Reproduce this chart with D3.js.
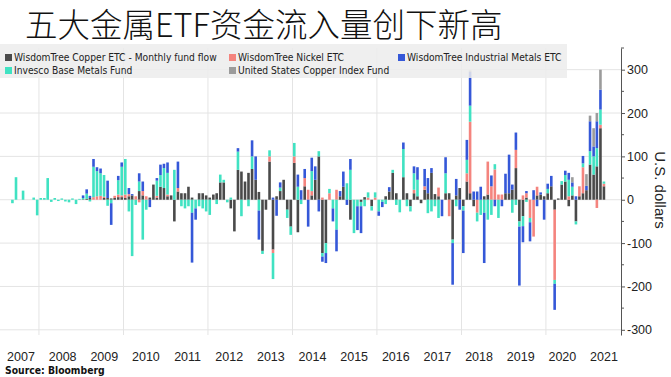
<!DOCTYPE html>
<html>
<head>
<meta charset="utf-8">
<script src="https://cdn.jsdelivr.net/npm/d3@7"></script>
<style>
  body { margin: 0; background: #fff; }
  svg { display: block; }
</style>
</head>
<body>
<svg id="chart" width="671" height="377"></svg>
<script>
// monthly fund flows, May 2007 .. May 2021 (one row of comments per calendar year)
const firstMonth = new Date(2007, 4, 1);

const copper = [
  0,0,0,0,0,0,0,0,
  0,0,0,0,0,0,0,0,0,0,0,0,
  1,2,4,0,0,0,4,4,3,4,6,6,
  4,8,10,0,20,10,0,5,35,5,30,27,
  8,10,-50,19,15,15,30,5,0,15,15,10,
  5,12,15,40,40,0,-20,-73,69,65,42,62,
  71,46,18,-118,-23,88,-115,8,20,46,-23,-62,
  85,-75,0,31,0,10,46,100,-123,-100,0,0,
  0,8,30,0,-46,0,0,-5,6,0,-15,0,
  0,0,8,19,62,15,0,52,15,-15,15,8,
  -8,23,15,62,13,8,0,15,15,-92,10,27,
  -15,42,15,-15,0,0,8,12,0,0,0,0,
  15,15,23,73,-50,-38,5,0,0,10,12,8,
  15,31,-23,3,35,42,-15,10,-50,8,15,22,
  81,58,77,165,31
];
const nickel = [
  0,0,0,0,0,0,0,0,
  0,0,0,0,0,0,0,0,0,0,0,0,
  0,0,0,6,8,9,3,0,0,5,6,4,
  8,5,0,8,-6,10,8,0,0,4,0,0,
  4,0,0,8,0,0,0,0,0,0,0,0,
  0,0,0,0,0,0,0,0,0,0,0,0,
  0,0,0,0,0,12,-8,0,0,0,0,0,
  15,0,0,19,23,10,0,0,5,0,15,0,
  23,0,0,0,0,0,0,0,0,5,0,5,
  0,0,0,0,0,0,0,0,0,0,8,0,
  0,8,0,0,0,20,0,0,-38,0,0,0,
  0,19,165,0,-30,0,0,76,31,70,12,12,
  0,0,0,42,0,10,10,-42,-85,20,0,0,
  0,0,-162,0,0,0,8,0,0,23,60,0,
  0,0,-19,8,6
];
const invesco = [
  -8,52,0,21,0,0,5,-36,
  4,4,50,-5,4,-3,3,-4,-6,3,-10,2,
  3,12,-4,70,58,52,50,-14,-8,0,33,66,
  82,-27,-130,-12,22,-92,-23,0,0,35,27,46,
  50,0,69,0,-15,-20,-15,-30,-20,-15,-20,-27,
  -35,0,-10,18,6,-6,5,0,42,-38,0,-15,
  29,0,-25,-7,0,14,-60,0,8,0,-19,-19,
  31,30,-10,0,0,46,0,12,-8,-23,10,-20,
  -69,0,0,38,69,-77,-15,-10,-15,12,-10,12,
  -27,-5,-10,0,7,-12,-29,65,-15,-12,38,38,
  0,0,-31,-27,-15,-42,0,46,0,-8,-15,0,
  -10,31,37,0,-20,-35,-30,-46,-35,12,-42,0,
  0,0,-30,-12,-12,-23,-5,-10,0,0,0,0,
  10,0,-9,0,8,15,38,20,-7,0,9,0,
  31,42,42,35,5
];
const industrial = [
  0,0,0,0,0,0,0,0,
  0,0,0,0,0,0,0,0,0,0,0,0,
  6,10,5,18,9,11,0,40,-50,0,10,10,
  0,14,3,0,19,22,0,-17,0,6,24,10,
  24,0,0,61,0,0,0,-115,-26,0,0,0,
  0,0,0,0,0,0,0,0,8,0,0,0,
  37,54,-67,0,0,0,5,-37,12,0,0,0,
  0,28,22,21,-62,31,31,-27,-12,-23,0,-30,
  -50,12,35,-12,25,0,-55,-62,0,0,0,0,
  -10,-12,0,10,0,0,0,15,0,0,16,29,
  0,40,35,11,0,0,-38,37,0,-96,38,-23,
  -98,46,78,19,19,30,-116,0,25,-15,0,-15,
  45,89,12,40,-136,-37,5,-44,22,-15,5,-46,
  12,24,-60,0,0,10,16,10,8,0,17,10,
  69,23,62,46,0
];
const usCopper = [
  0,0,0,0,0,0,0,0,
  0,0,0,0,0,0,0,0,0,0,0,0,
  0,0,0,0,0,0,0,0,0,0,0,0,
  0,0,0,0,0,0,0,0,0,0,0,0,
  0,0,0,0,0,0,0,0,0,0,0,0,
  0,0,0,0,0,0,0,0,0,0,0,0,
  0,0,0,0,0,0,0,0,0,0,0,0,
  0,0,0,0,0,0,0,0,0,0,0,0,
  0,0,0,0,0,0,0,0,0,0,0,0,
  0,0,0,0,0,0,0,0,0,0,0,0,
  0,0,0,0,0,0,0,0,0,0,0,0,
  0,0,3,0,0,0,0,0,0,0,0,0,
  0,0,0,0,0,0,0,0,0,0,0,0,
  0,0,0,0,0,0,0,12,0,0,0,27,
  13,42,19,46,0
];

const seriesKeys = ["copper", "nickel", "invesco", "industrial", "usCopper"];
const seriesNames = [
  "WisdomTree Copper ETC - Monthly fund flow",
  "WisdomTree Nickel ETC",
  "Invesco Base Metals Fund",
  "WisdomTree Industrial Metals ETC",
  "United States Copper Index Fund"
];
const seriesColors = ["#4a4a4a", "#f4847e", "#40e2c2", "#3558d8", "#9b9b9b"];
const yTicks = [-300, -200, -100, 0, 100, 200, 300];
const yearLabels = d3.range(2007, 2022);
const title = "五大金属ETF资金流入量创下新高";


const svg = d3.select("#chart");
const plotRight = 621;

const rows = copper.map((v, i) => ({
  date: d3.timeMonth.offset(firstMonth, i),
  copper: v, nickel: nickel[i], invesco: invesco[i], industrial: industrial[i], usCopper: usCopper[i]
}));

// scales
const x = d3.scaleTime()
  .domain([new Date(2007, 0, 1), new Date(2021, 0, 1)])
  .range([-3.25, 588.25]);
const y = d3.scaleLinear().domain([-312, 350]).range([335, 48]);
// year labels sit on their own, slightly tighter spacing
const xLabel = d3.scaleLinear().domain([2007, 2021]).range([21, 604]);

svg.append("rect").attr("width", 671).attr("height", 377).attr("fill", "#fff");

// gridlines
const grid = svg.append("g");
grid.selectAll("line.h").data(yTicks).join("line")
  .attr("x1", 0).attr("x2", plotRight)
  .attr("y1", d => y(d)).attr("y2", d => y(d))
  .attr("stroke", "#e4e4e4").attr("stroke-width", 1);
grid.selectAll("line.v").data(d3.range(2008, 2021, 2)).join("line")
  .attr("x1", d => x(new Date(d, 0, 1))).attr("x2", d => x(new Date(d, 0, 1)))
  .attr("y1", 48).attr("y2", 335)
  .attr("stroke", "#e4e4e4").attr("stroke-width", 1);

// bars
const stacked = d3.stack().keys(seriesKeys).offset(d3.stackOffsetDiverging)(rows);
const monthW = x(new Date(2007, 1, 1)) - x(new Date(2007, 0, 1));
const barW = 2.6;

svg.append("g").selectAll("g").data(stacked).join("g")
  .attr("fill", (d, i) => seriesColors[i])
  .selectAll("rect").data(d => d.filter(p => p[1] !== p[0])).join("rect")
  .attr("x", d => x(d.data.date) + (monthW - barW) / 2)
  .attr("width", barW)
  .attr("y", d => y(Math.max(d[0], d[1])))
  .attr("height", d => Math.abs(y(d[0]) - y(d[1])));

// legend
const legend = svg.append("g");
legend.append("rect").attr("x", 0).attr("y", 44).attr("width", 567).attr("height", 34)
  .attr("fill", "#ececec").attr("fill-opacity", 0.85);
const legendPos = [[5, 54], [229, 54], [5, 67], [398, 54], [229, 67]];
seriesNames.forEach((name, i) => {
  const [lx, ly] = legendPos[i];
  legend.append("rect").attr("x", lx).attr("y", ly).attr("width", 7).attr("height", 7)
    .attr("fill", seriesColors[i]);
  legend.append("text").attr("x", lx + 9).attr("y", ly + 7)
    .attr("font-family", "DejaVu Sans Condensed, DejaVu Sans, sans-serif")
    .attr("font-size", 10.2).attr("fill", "#222").text(name);
});

// y axis on the right
const yAxis = svg.append("g").attr("transform", `translate(${plotRight},0)`)
  .call(d3.axisRight(y).tickValues(yTicks).tickSize(4).tickSizeOuter(0).tickFormat(d => String(d)));
yAxis.select(".domain").attr("stroke", "#555");
yAxis.selectAll(".tick line").attr("stroke", "#555");
yAxis.selectAll(".tick text").attr("x", 6)
  .attr("font-family", "Liberation Sans, Arial, sans-serif").attr("font-size", 12.5).attr("fill", "#222");
yAxis.selectAll("line.minor").data(d3.range(-250, 351, 100)).join("line")
  .attr("class", "minor").attr("x1", 0).attr("x2", 3)
  .attr("y1", d => y(d)).attr("y2", d => y(d)).attr("stroke", "#555");

svg.append("text")
  .attr("transform", `translate(655,190) rotate(90)`)
  .attr("text-anchor", "middle")
  .attr("font-family", "Liberation Sans, Arial, sans-serif").attr("font-size", 15).attr("fill", "#222")
  .text("U.S. dollars");

// x labels
svg.append("g").selectAll("text").data(yearLabels).join("text")
  .attr("x", d => xLabel(d))
  .attr("y", 361)
  .attr("text-anchor", "middle")
  .attr("font-family", "Liberation Sans, Arial, sans-serif").attr("font-size", 12.5).attr("fill", "#222")
  .text(d => d);

svg.append("text").attr("x", 5).attr("y", 374)
  .attr("font-family", "DejaVu Sans Condensed, DejaVu Sans, sans-serif")
  .attr("font-weight", "bold").attr("font-size", 10.3).attr("fill", "#111")
  .text("Source: Bloomberg");

// title
svg.append("text").attr("x", 25).attr("y", 37)
  .attr("font-family", "Noto Sans CJK SC, sans-serif").attr("font-weight", 300)
  .attr("font-size", 32.5).attr("fill", "#111")
  .text(title);
</script>
</body>
</html>
